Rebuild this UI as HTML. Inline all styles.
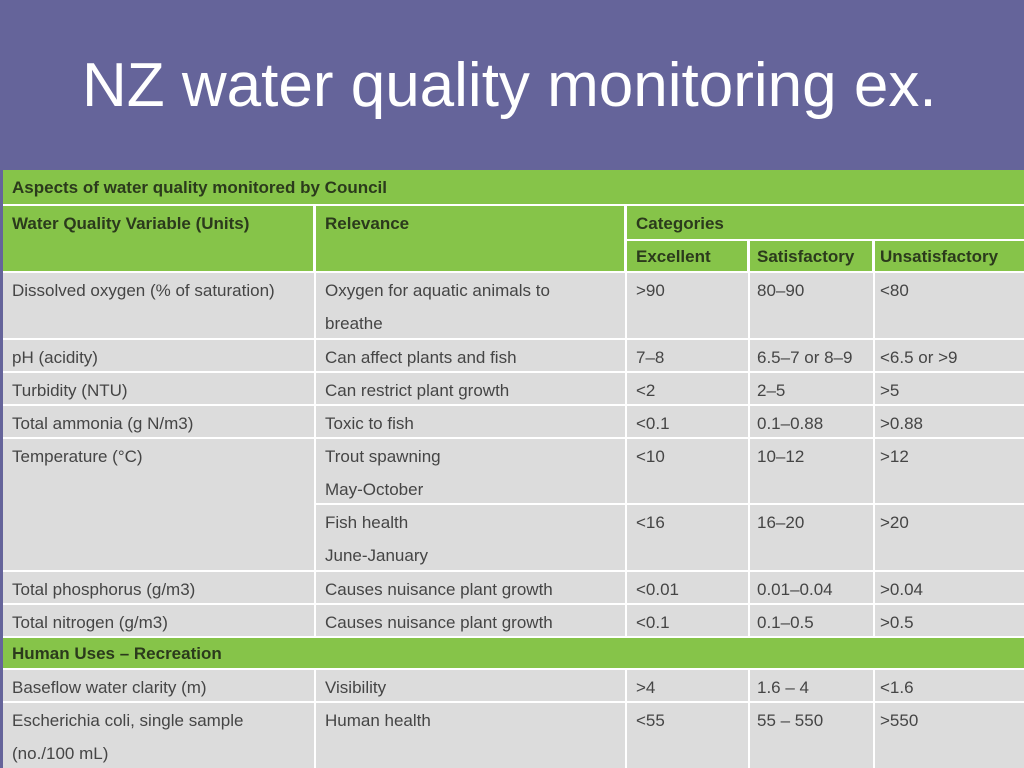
<!DOCTYPE html>
<html><head><meta charset="utf-8"><style>
body{margin:0;width:1024px;height:768px;overflow:hidden;background:#65649a;font-family:"Liberation Sans",sans-serif;position:relative}
#title{position:absolute;left:82px;top:50px;color:#fff;font-size:62px;white-space:nowrap}
#tbl{position:absolute;left:3px;top:170px;width:1021px;height:598px;background:#fff}
.c{position:absolute;background:#dcdcdc;color:#454545;font-size:17px;line-height:33px;padding:1px 0 0 9px;box-sizing:border-box;white-space:nowrap;overflow:hidden}
.g{background:#86c449;color:#2b3a1c;font-weight:bold}
</style></head><body>
<div id="title">NZ water quality monitoring ex.</div>
<div id="tbl"></div>
<div>
<div class="c g" style="left:3px;top:170px;width:1021px;height:34px">Aspects of water quality monitored by Council</div>
<div class="c g" style="left:3px;top:206px;width:310px;height:65px;line-height:34px">Water Quality Variable (Units)</div>
<div class="c g" style="left:316px;top:206px;width:308px;height:65px;line-height:34px">Relevance</div>
<div class="c g" style="left:627px;top:206px;width:397px;height:33px">Categories</div>
<div class="c g" style="left:627px;top:241px;width:120px;height:30px;line-height:30px">Excellent</div>
<div class="c g" style="left:750px;top:241px;width:122px;height:30px;line-height:30px;padding-left:7px">Satisfactory</div>
<div class="c g" style="left:875px;top:241px;width:149px;height:30px;line-height:30px;padding-left:5px">Unsatisfactory</div>
</div>
<div id="body"></div>
<script>
const cols=[3,316,627,750,875,1024];
const rows=[
[273,65,"Dissolved oxygen (% of saturation)","Oxygen for aquatic animals to<br>breathe",">90","80–90","<80"],
[340,31,"pH (acidity)","Can affect plants and fish","7–8","6.5–7 or 8–9","<6.5 or >9"],
[373,31,"Turbidity (NTU)","Can restrict plant growth","<2","2–5",">5"],
[406,31,"Total ammonia (g N/m3)","Toxic to fish","<0.1","0.1–0.88",">0.88"],
[439,64,"Temperature (°C)","Trout spawning<br>May-October","<10","10–12",">12"],
[505,65,null,"Fish health<br>June-January","<16","16–20",">20"],
[572,31,"Total phosphorus (g/m3)","Causes nuisance plant growth","<0.01","0.01–0.04",">0.04"],
[605,31,"Total nitrogen (g/m3)","Causes nuisance plant growth","<0.1","0.1–0.5",">0.5"],
[670,31,"Baseflow water clarity (m)","Visibility",">4","1.6 – 4","<1.6"],
[703,65,"Escherichia coli, single sample<br>(no./100 mL)","Human health","<55","55 – 550",">550"]];
const body=document.getElementById('body');
function esc(s){return s.replace(/</g,'&lt;').replace(/>/g,'&gt;').replace(/&lt;br&gt;/g,'<br>');}
rows.forEach((r,i)=>{
  for(let k=0;k<5;k++){
    let txt=r[2+k];
    let top=r[0],h=r[1];
    if(txt===null) continue;
    if(i===4&&k===0){h=131;}
    const d=document.createElement('div');
    d.className='c';
    
    
    d.style.left=cols[k]+'px';d.style.top=top+'px';
    d.style.width=(cols[k+1]-cols[k]-(k<4?2:0))+'px';d.style.height=h+'px';
    if(k===3)d.style.paddingLeft='7px';
    if(k===4)d.style.paddingLeft='5px';
    d.innerHTML=esc(txt);
    body.appendChild(d);
  }
});
const g=document.createElement('div');
g.className='c g';


g.style.cssText='left:3px;top:638px;width:1021px;height:30px;line-height:30px';
g.textContent='Human Uses – Recreation';
body.appendChild(g);
</script>
</body></html>
